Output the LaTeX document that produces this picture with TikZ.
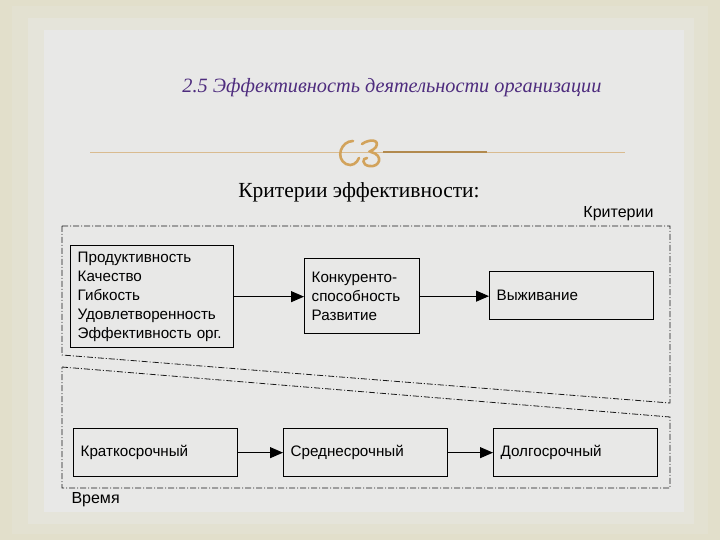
\documentclass[tikz,border=0pt]{standalone}
\usepackage{fontspec}
\setmainfont{Liberation Serif}
\setsansfont{Liberation Sans}
\usepackage{tikz}
\usetikzlibrary{arrows.meta,positioning}
\usepackage{xcolor}
\definecolor{beige}{HTML}{E2DFCB}
\definecolor{panel}{HTML}{E8E8E7}
\definecolor{gold}{HTML}{D2A35C}
\definecolor{goldline}{HTML}{D9BB90}
\definecolor{plum}{HTML}{4E2C7E}

\begin{document}
\begin{tikzpicture}[
  x=1pt, y=-1pt,
  box/.style={rectangle, draw=black, line width=1.3pt, fill=panel,
              anchor=north west, inner xsep=7pt, inner ysep=0pt,
              font=\sffamily\fontsize{15.2}{19}\selectfont, align=left},
  frame/.style={draw=black!90, line width=0.8pt,
                dash pattern=on 6pt off 2pt on 1pt off 2pt},
  arr/.style={-{Triangle[length=13pt, width=11pt]}, line width=0.9pt},
  ornament/.style={draw=gold, line width=2.6pt, line cap=round},
  lbl/.style={font=\sffamily\fontsize{16}{18}\selectfont},
]
  % background
  \useasboundingbox (0,0) rectangle (720,540);
  \fill[beige] (0,0) rectangle (720,540);
  \fill[beige!80!panel] (12,6) rectangle (708,534);
  \fill[beige!45!panel] (28,18) rectangle (694,524);
  \fill[panel] (44,30) rectangle (684,512);

  % heading
  \node[font=\itshape\fontsize{20.3}{24}\selectfont, text=plum] (title) at (392,88)
    {2.5 Эффективность деятельности организации};
  \coordinate (ruleL) at (90,152);
  \coordinate (ruleR) at (625,152);
  \coordinate (ruleA) at (383,152);
  \coordinate (ruleB) at (487,152);
  \draw[goldline, line width=0.8pt] (ruleL) -- (ruleR);
  \draw[gold!85!black, line width=1.8pt] (ruleA) -- (ruleB);
  \draw[ornament] (353,141) .. controls (341,141) and (335,158) .. (346,164)
                  .. controls (352,167) and (357,163) .. (359,158);
  \draw[ornament] (362,144) .. controls (369,139) and (380,139) .. (376,147)
                  .. controls (373,151) and (368,151) .. (371,152)
                  .. controls (384,155) and (380,168) .. (369,166)
                  .. controls (362,165) and (362,158) .. (367,158);
  \node[font=\fontsize{21.5}{24}\selectfont] (subtitle) at (359,192)
    {Критерии эффективности:};

  % frames
  \node[lbl, anchor=east] (critlbl) at (657,214) {Критерии};
  \node[lbl, anchor=west] (timelbl) at (68,500) {Время};
  \draw[frame] (62,226) -- (670,226) -- (670,403) -- (62,355) -- cycle;
  \draw[frame] (62,367) -- (670,417) -- (670,488) -- (62,488) -- cycle;

  % criteria
  \node[box, text width=149pt, minimum height=102pt] (prod) at (70,245)
    {Продуктивность\\Качество\\Гибкость\\Удовлетворенность\\Эффективность орг.};
  \node[box, text width=101pt, minimum height=75pt] (comp) at (304,258)
    {Конкуренто-\\способность\\Развитие};
  \node[box, text width=150pt, minimum height=48pt] (surv) at (489,271) {Выживание};

  % time horizons
  \node[box, text width=150pt, minimum height=48pt] (short) at (73,428) {Краткосрочный};
  \node[box, text width=150pt, minimum height=48pt] (mid) at (283,428) {Среднесрочный};
  \node[box, text width=150pt, minimum height=48pt] (long) at (493,428) {Долгосрочный};

  \draw[arr] (prod.east) -- (prod.east -| comp.west);
  \draw[arr] (comp.east) -- (comp.east -| surv.west);
  \draw[arr] (short) -- (mid);
  \draw[arr] (mid) -- (long);
\end{tikzpicture}
\end{document}
